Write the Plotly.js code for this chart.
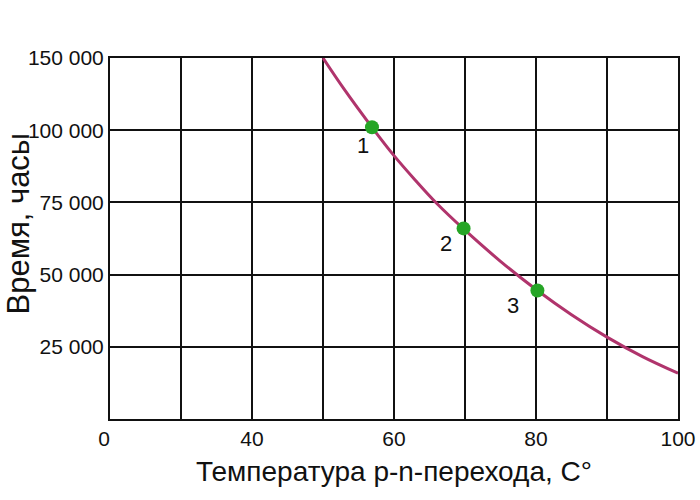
<!DOCTYPE html>
<html>
<head>
<meta charset="utf-8">
<script src="https://cdn.plot.ly/plotly-3.0.1.min.js"></script>
<style>html,body{margin:0;padding:0;background:#fff}#chart{width:700px;height:500px}</style>
</head>
<body>
<div id="chart"></div>
<script>
// Curve (axis units; the axes are broken: x grid 20 is labelled "0", y grid 125000 is labelled "150 000")
const curveX = [50, 53, 56.9, 60, 63, 66, 69.8, 75, 80.2, 85, 90, 95, 100];
const curveY = [125000, 114100, 101000, 91200, 82700, 74700, 65800, 54600, 44500, 36100, 28350, 21600, 15850];
// Marked points
const pointX = [56.9, 69.8, 80.2];
const pointY = [101000, 66000, 44500];
const pointLabels = ["1", "2", "3"];
// Tick labels
const xTickVals = [20, 30, 40, 50, 60, 70, 80, 90, 100];
const xTickText = ["0\u00a0\u00a0", "", "40", "", "60", "", "80", "", "100"];
const yTickVals = [0, 25000, 50000, 75000, 100000, 125000];
const yTickText = ["", "25 000", "50 000", "75 000", "100 000", "150 000"];

const FONT = 'Liberation Sans, Arial, sans-serif';
const labelShifts = [[-9, -18], [-18, -15], [-24, -15]];

const traces = [
  {x: curveX, y: curveY, mode: 'lines', line: {color: '#b0346c', width: 3, shape: 'spline', smoothing: 1}, hoverinfo: 'skip'},
  {x: pointX, y: pointY, mode: 'markers', marker: {color: '#26a526', size: 14}, hoverinfo: 'skip'}
];

const annotations = pointLabels.map((t, i) => ({
  x: pointX[i], y: pointY[i], text: t, showarrow: false,
  xshift: labelShifts[i][0], yshift: labelShifts[i][1],
  font: {family: FONT, size: 22, color: '#111'}
}));
annotations.push({
  xref: 'paper', yref: 'paper', x: -92 / 568, y: 0.5, yshift: 15,
  text: 'Время, часы', textangle: -90, showarrow: false,
  xanchor: 'center', yanchor: 'middle',
  font: {family: FONT, size: 31, color: '#111'}
});

const layout = {
  width: 700, height: 500,
  margin: {l: 110, r: 22, t: 58, b: 81},
  paper_bgcolor: '#fff', plot_bgcolor: '#fff',
  showlegend: false,
  font: {family: FONT, color: '#111'},
  xaxis: {
    range: [20, 100], tickmode: 'array', tickvals: xTickVals, ticktext: xTickText,
    showgrid: true, gridcolor: '#111', gridwidth: 2, zeroline: false,
    showline: true, linecolor: '#111', linewidth: 2, mirror: true,
    ticks: '', ticklen: 0, tickfont: {size: 21, color: '#111'},
    title: {text: 'Температура p-n-перехода, С°', font: {size: 28, color: '#111'}, standoff: 12}
  },
  yaxis: {
    range: [0, 125000], tickmode: 'array', tickvals: yTickVals, ticktext: yTickText,
    showgrid: true, gridcolor: '#111', gridwidth: 2, zeroline: false,
    showline: true, linecolor: '#111', linewidth: 2, mirror: true,
    ticks: '', ticklen: 0, tickfont: {size: 21, color: '#111'}
  },
  annotations: annotations
};

Plotly.newPlot('chart', traces, layout, {staticPlot: true, displayModeBar: false});
</script>
</body>
</html>
